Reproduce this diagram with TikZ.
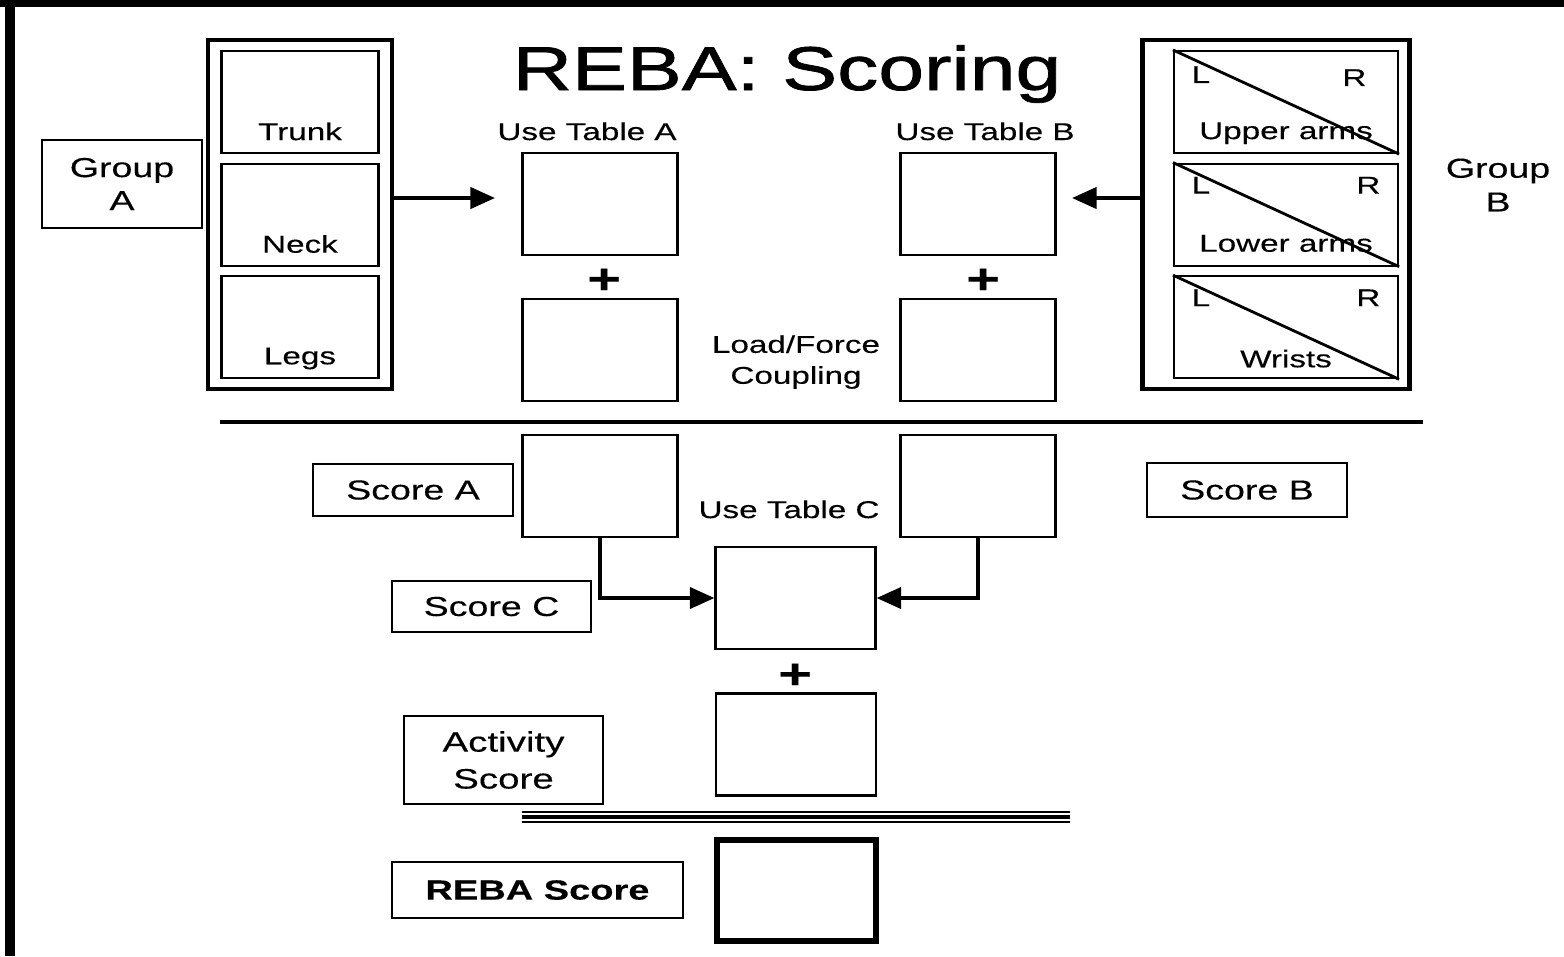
\documentclass[tikz,border=0pt]{standalone}
\usepackage{fontspec}
\setmainfont{Liberation Sans}[FakeStretch=1.37, FakeBold=0.3]
\newfontfamily\titlefont{Liberation Sans}[FakeStretch=1.33, FakeBold=1.2]
\usetikzlibrary{arrows.meta, positioning, calc}
\tikzset{
	grpframe/.style={draw, line width=1.3pt, minimum height=34.9mm, inner sep=0pt},
	part/.style={draw, line width=0.6pt, minimum height=10.2mm, inner sep=0pt},
	score/.style={draw, line width=0.6pt, minimum width=15.5mm, minimum height=10.2mm, inner sep=0pt},
	tag/.style={draw, line width=0.6pt, inner sep=0pt, align=center, font=\fontsize{7.8}{9.4}\selectfont},
	lbl/.style={inner sep=0pt, font=\fontsize{6.9}{8.8}\selectfont},
	plussign/.style={inner sep=0pt, font=\bfseries\fontsize{12}{12}\selectfont},
	diag/.style={draw, line width=0.8pt},
	flow/.style={draw, line width=1.1pt, -{Triangle[length=7pt,width=6pt]}}
}
\begin{document}
\begin{tikzpicture}[x=0.1mm, y=-0.1mm]
		\useasboundingbox (0,0) rectangle (1564,956);
		% page frame
		\draw[line width=2pt] (0,3.5) -- (1564,3.5);
		\draw[line width=2.8pt] (10,0) -- (10,956);
		\node[anchor=base, inner sep=0pt, font=\titlefont\fontsize{17.6}{20}\selectfont] (title) at (787,90) {REBA: Scoring};

		% group A
		\node[tag, minimum width=16mm, minimum height=8.8mm] (grpAlbl) at (122,184) {Group\\A};
		\node[grpframe, minimum width=18.4mm] (grpA) at (300,214.5) {};
		\node[part, minimum width=15.7mm] (trunk) at (300,102) {};
		\node[part, minimum width=15.7mm] (neck) at (300,214.6) {};
		\node[part, minimum width=15.7mm] (legs) at (300,327.2) {};
		\node[lbl, anchor=base] (trunktxt) at ([yshift=1.4mm]trunk.south) {Trunk};
		\node[lbl, anchor=base] (necktxt) at ([yshift=1.4mm]neck.south) {Neck};
		\node[lbl, anchor=base] (legstxt) at ([yshift=1.5mm]legs.south) {Legs};

		% group B
		\node[align=center, inner sep=0pt, font=\fontsize{7.8}{9.6}\selectfont] (grpBlbl) at (1498,185) {Group\\B};
		\node[grpframe, minimum width=26.65mm] (grpB) at (1276,214.5) {};
		\node[part, minimum width=22.4mm] (upper) at (1286,102) {};
		\node[part, minimum width=22.4mm] (lower) at (1286,214.6) {};
		\node[part, minimum width=22.4mm] (wrist) at (1286,327.2) {};
		\draw[diag] (upper.north west) -- (upper.south east);
		\draw[diag] (lower.north west) -- (lower.south east);
		\draw[diag] (wrist.north west) -- (wrist.south east);
		\node[lbl, anchor=base] (uppertxt) at ([yshift=1.5mm]upper.south) {Upper arms};
		\node[lbl, anchor=base] (lowertxt) at ([yshift=1.5mm]lower.south) {Lower arms};
		\node[lbl, anchor=base] (wristtxt) at ([yshift=1.2mm]wrist.south) {Wrists};
		\node[lbl, anchor=base west] (upperL) at ([xshift=1.8mm,yshift=-3.3mm]upper.north west) {L};
		\node[lbl, anchor=base east] (upperR) at ([xshift=-3.2mm,yshift=-3.6mm]upper.north east) {R};
		\node[lbl, anchor=base west] (lowerL) at ([xshift=1.8mm,yshift=-3.1mm]lower.north west) {L};
		\node[lbl, anchor=base east] (lowerR) at ([xshift=-1.8mm,yshift=-3.1mm]lower.north east) {R};
		\node[lbl, anchor=base west] (wristL) at ([xshift=1.8mm,yshift=-3.1mm]wrist.north west) {L};
		\node[lbl, anchor=base east] (wristR) at ([xshift=-1.8mm,yshift=-3.1mm]wrist.north east) {R};

		% tables A and B
		\node[lbl, anchor=base] (useA) at (587,140) {Use Table A};
		\node[score] (tA) at (600,204) {};
		\node[plussign] (plusA) at (604,281) {+};
		\node[score] (fA) at (600,350) {};
		\node[lbl, anchor=base] (useB) at (985,140) {Use Table B};
		\node[score] (tB) at (978,204) {};
		\node[plussign] (plusB) at (983,281) {+};
		\node[score] (fB) at (978,350) {};
		\node[lbl, align=center] (load) at (796,362) {Load/Force\\Coupling};
		\coordinate (inA) at (495,198);
		\coordinate (inB) at (1072,198);
		\draw[flow] (grpA.east |- inA) -- (inA);
		\draw[flow] (grpB.west |- inB) -- (inB);

		\draw[line width=1pt] (220,422) -- (1423,422);

		% table C
		\node[score] (sA) at (600,486) {};
		\node[score] (sB) at (978,486) {};
		\node[tag, minimum width=20mm, minimum height=5.2mm] (scoreA) at (413,490) {Score A};
		\node[tag, minimum width=20mm, minimum height=5.4mm] (scoreB) at (1247,490) {Score B};
		\node[tag, minimum width=19.9mm, minimum height=5.1mm] (scoreC) at (491.5,606.5) {Score C};
		\node[lbl, anchor=base] (useC) at (789,518) {Use Table C};
		\node[score, minimum width=16mm] (tC) at (795.5,598) {};
		\draw[flow] (sA.south) |- (tC.west);
		\draw[flow] (sB.south) |- (tC.east);
		\node[plussign] (plusC) at (795,676) {+};
		\node[score, minimum width=16mm] (act) at (796,744.5) {};
		\node[tag, minimum width=19.9mm, minimum height=8.8mm, font=\fontsize{8}{10.5}\selectfont] (actlbl) at (503.5,760) {Activity\\Score};

		\draw[line width=0.55pt] (522,811.8) -- (1070,811.8);
		\draw[line width=1.1pt] (522,817) -- (1070,817);
		\draw[line width=0.5pt] (522,822.3) -- (1070,822.3);

		\node[score, minimum width=15.9mm, minimum height=10.1mm, line width=1.5pt] (reba) at (796.5,890.5) {};
		\node[tag, minimum width=29.1mm, minimum height=5.6mm, font=\bfseries\fontsize{7.9}{9}\selectfont] (rebalbl) at (537.5,890) {REBA Score};
\end{tikzpicture}
\end{document}
